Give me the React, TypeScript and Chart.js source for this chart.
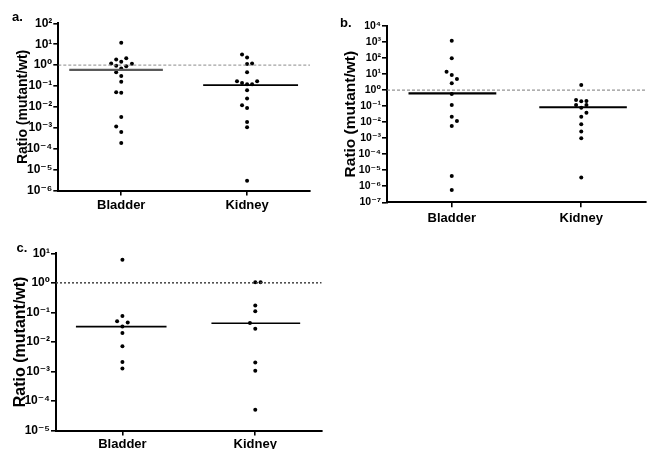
import React, { useEffect, useRef } from "react";
import { Chart, registerables } from "chart.js";

Chart.register(...registerables);

// ---------- data ----------
const categories = ["Bladder", "Kidney"];
const yTitle = "Ratio (mutant/wt)";

// Panel a
const aBladderValues = [11.7, 2.1, 1.85, 1.44, 1.2, 1.15, 0.92, 0.89, 0.69, 0.45, 0.3, 0.158, 0.05, 0.047, 0.0033, 0.00114, 0.00063, 0.000186];
const aBladderJitter = [0, 0.04, -0.04, 0, -0.08, 0.085, -0.04, 0.04, 0, -0.04, 0, 0, -0.04, 0, 0, -0.04, 0, 0];
const aKidneyValues = [3.2, 2.3, 1.12, 1.2, 0.46, 0.17, 0.14, 0.12, 0.12, 0.17, 0.063, 0.025, 0.012, 0.0089, 0.0019, 0.00105, 2.9e-6];
const aKidneyJitter = [-0.04, 0, 0, 0.04, 0, -0.08, -0.04, 0, 0.04, 0.08, 0, 0, -0.04, 0, 0, 0, 0];
const aMedians = [0.59, 0.11];
const aMedianSpans = [[0.587, 1.331], [1.651, 2.405]];
const aExponents = [2, 1, 0, -1, -2, -3, -4, -5, -6];

// Panel b
const bBladderValues = [1210, 97, 14, 8.8, 4.9, 2.7, 0.57, 0.117, 0.022, 0.0117, 0.0057, 4.4e-6, 5.9e-7];
const bBladderJitter = [0, 0, -0.04, 0, 0.04, 0, 0, 0, 0, 0.04, 0, 0, 0];
const bKidneyValues = [2.1, 0.24, 0.2, 0.21, 0.117, 0.079, 0.117, 0.039, 0.022, 0.0074, 0.0026, 0.00098, 3.5e-6];
const bKidneyJitter = [0, -0.04, 0, 0.04, -0.04, 0, 0.04, 0.04, 0, 0, 0, 0, 0];
const bMedians = [0.63, 0.085];
const bMedianSpans = [[0.666, 1.344], [1.676, 2.352]];
const bExponents = [4, 3, 2, 1, 0, -1, -2, -3, -4, -5, -6, -7];

// Panel c
const cBladderValues = [6.1, 0.076, 0.05, 0.045, 0.033, 0.02, 0.0071, 0.0021, 0.00126];
const cBladderJitter = [0, 0, -0.04, 0.04, 0, 0, 0, 0, 0];
const cKidneyValues = [1.05, 1.05, 0.17, 0.11, 0.044, 0.028, 0.002, 0.00105, 5.0e-5];
const cKidneyJitter = [0, 0.04, 0, 0, -0.04, 0, 0, 0, 0];
const cMedians = [0.033, 0.043];
const cMedianSpans = [[0.65, 1.332], [1.67, 2.338]];
const cExponents = [1, 0, -1, -2, -3, -4, -5];

const referenceValue = 1;

// ---------- helpers ----------
const SUP: Record<string, string> = {
  "-": "\u207B", "0": "\u2070", "1": "\u00B9", "2": "\u00B2", "3": "\u00B3",
  "4": "\u2074", "5": "\u2075", "6": "\u2076", "7": "\u2077", "8": "\u2078", "9": "\u2079",
};
const pow10Label = (e: number) =>
  "10" + String(e).split("").map((c) => SUP[c] || c).join("");

const FONT = '"Liberation Sans", Arial, "DejaVu Sans", sans-serif';

type Panel = {
  letter: string;
  bladder: number[];
  bladderJ: number[];
  kidney: number[];
  kidneyJ: number[];
  medians: number[];
  spans: number[][];
  exps: number[];
  box: { l: number; t: number; w: number; h: number };
  pad: { left: number; top: number; right: number };
  yWidth: number;
  xHeight: number;
  tickFont: number;
  titleFont: number;
  catPad: number;
  medianColors: string[];
  medianWidths: number[];
  dashColor: string;
  dashWidth: number;
  dash: number[];
  letterPos: { x: number; y: number };
};

const panels: Panel[] = [
  {
    letter: "a.",
    bladder: aBladderValues, bladderJ: aBladderJitter,
    kidney: aKidneyValues, kidneyJ: aKidneyJitter,
    medians: aMedians, spans: aMedianSpans, exps: aExponents,
    box: { l: 0, t: 0, w: 320, h: 220 },
    pad: { left: 10.9, top: 23.3, right: 10 },
    yWidth: 47.4, xHeight: 29.5,
    tickFont: 12, titleFont: 14, catPad: 2,
    medianColors: ["#5a5a5a", "#000"], medianWidths: [2.2, 1.8],
    dashColor: "#8a8a8a", dashWidth: 1, dash: [3, 2],
    letterPos: { x: 12, y: 9.7 },
  },
  {
    letter: "b.",
    bladder: bBladderValues, bladderJ: bBladderJitter,
    kidney: bKidneyValues, kidneyJ: bKidneyJitter,
    medians: bMedians, spans: bMedianSpans, exps: bExponents,
    box: { l: 330, t: 0, w: 320, h: 230 },
    pad: { left: 7.4, top: 26, right: 0 },
    yWidth: 49.6, xHeight: 27.7,
    tickFont: 10.5, titleFont: 15.5, catPad: 3,
    medianColors: ["#000", "#000"], medianWidths: [2.2, 2.2],
    dashColor: "#7a7a7a", dashWidth: 1, dash: [3, 2],
    letterPos: { x: 340, y: 15.7 },
  },
  {
    letter: "c.",
    bladder: cBladderValues, bladderJ: cBladderJitter,
    kidney: cKidneyValues, kidneyJ: cKidneyJitter,
    medians: cMedians, spans: cMedianSpans, exps: cExponents,
    box: { l: 0, t: 230, w: 330, h: 219 },
    pad: { left: 7.4, top: 23.3, right: 8.3 },
    yWidth: 48.6, xHeight: 18.5,
    tickFont: 12, titleFont: 16, catPad: 1,
    medianColors: ["#000", "#000"], medianWidths: [1.6, 1.6],
    dashColor: "#444", dashWidth: 1.5, dash: [2, 2],
    letterPos: { x: 16.5, y: 240.7 },
  },
];

function buildConfig(p: Panel): any {
  const minExp = Math.min(...p.exps);
  const maxExp = Math.max(...p.exps);
  const pointStyle = {
    type: "scatter" as const,
    pointRadius: 2,
    pointBorderWidth: 0,
    pointBackgroundColor: "#000",
    showLine: false,
  };
  return {
    type: "scatter",
    data: {
      datasets: [
        {
          type: "line",
          data: [{ x: 0.5, y: referenceValue }, { x: 2.5, y: referenceValue }],
          borderColor: p.dashColor,
          borderWidth: p.dashWidth,
          borderDash: p.dash,
          pointRadius: 0,
          fill: false,
        },
        ...p.medians.map((m, i) => ({
          type: "line",
          data: [{ x: p.spans[i][0], y: m }, { x: p.spans[i][1], y: m }],
          borderColor: p.medianColors[i],
          borderWidth: p.medianWidths[i],
          pointRadius: 0,
          fill: false,
        })),
        {
          ...pointStyle,
          data: p.bladder.map((v, i) => ({ x: 1 + p.bladderJ[i], y: v })),
        },
        {
          ...pointStyle,
          data: p.kidney.map((v, i) => ({ x: 2 + p.kidneyJ[i], y: v })),
        },
      ],
    },
    options: {
      animation: false,
      responsive: false,
      events: [],
      layout: { padding: { left: p.pad.left, top: p.pad.top, right: p.pad.right, bottom: 0 } },
      plugins: { legend: { display: false }, tooltip: { enabled: false } },
      scales: {
        x: {
          type: "linear",
          min: 0.5,
          max: 2.5,
          afterBuildTicks: (s: any) => {
            s.ticks = categories.map((_, i) => ({ value: i + 1 }));
          },
          afterFit: (s: any) => {
            s.height = p.xHeight;
          },
          ticks: {
            autoSkip: false,
            maxRotation: 0,
            padding: p.catPad,
            color: "#000",
            font: { family: FONT, size: 13, weight: "bold" },
            callback: (_v: any, i: number) => categories[i],
          },
          grid: { drawOnChartArea: false, drawTicks: true, tickLength: 5, color: "#000", lineWidth: 1.6 },
          border: { display: true, color: "#000", width: 2 },
        },
        y: {
          type: "logarithmic",
          min: Math.pow(10, minExp),
          max: Math.pow(10, maxExp),
          afterBuildTicks: (s: any) => {
            s.ticks = p.exps.map((e) => ({ value: Math.pow(10, e) }));
          },
          afterFit: (s: any) => {
            s.width = p.yWidth;
          },
          ticks: {
            autoSkip: false,
            padding: 1,
            color: "#000",
            font: { family: FONT, size: p.tickFont, weight: "bold" },
            callback: (v: any) => pow10Label(Math.round(Math.log10(Number(v)))),
          },
          grid: { drawOnChartArea: false, drawTicks: true, tickLength: 5, color: "#000", lineWidth: 1.6 },
          border: { display: true, color: "#000", width: 2 },
          title: {
            display: true,
            text: yTitle,
            color: "#000",
            font: { family: FONT, size: p.titleFont, weight: "bold" },
            padding: { top: 4, bottom: 4 },
          },
        },
      },
    },
  };
}

function PanelChart({ p }: { p: Panel }) {
  const ref = useRef<HTMLCanvasElement>(null);
  useEffect(() => {
    if (!ref.current) return;
    const chart = new Chart(ref.current, buildConfig(p));
    return () => chart.destroy();
  }, [p]);
  return (
    <canvas
      ref={ref}
      width={p.box.w}
      height={p.box.h}
      style={{ position: "absolute", left: p.box.l, top: p.box.t, width: p.box.w, height: p.box.h }}
    />
  );
}

export default function App() {
  return (
    <div
      style={{
        position: "absolute",
        left: 0,
        top: 0,
        width: 650,
        height: 449,
        background: "#fff",
        overflow: "hidden",
        fontFamily: FONT,
      }}
    >
      {panels.map((p) => (
        <PanelChart key={p.letter} p={p} />
      ))}
      {panels.map((p) => (
        <div
          key={"lbl" + p.letter}
          style={{
            position: "absolute",
            left: p.letterPos.x,
            top: p.letterPos.y,
            fontSize: 13,
            lineHeight: "13px",
            fontWeight: "bold",
            color: "#000",
            whiteSpace: "nowrap",
          }}
        >
          {p.letter}
        </div>
      ))}
    </div>
  );
}
